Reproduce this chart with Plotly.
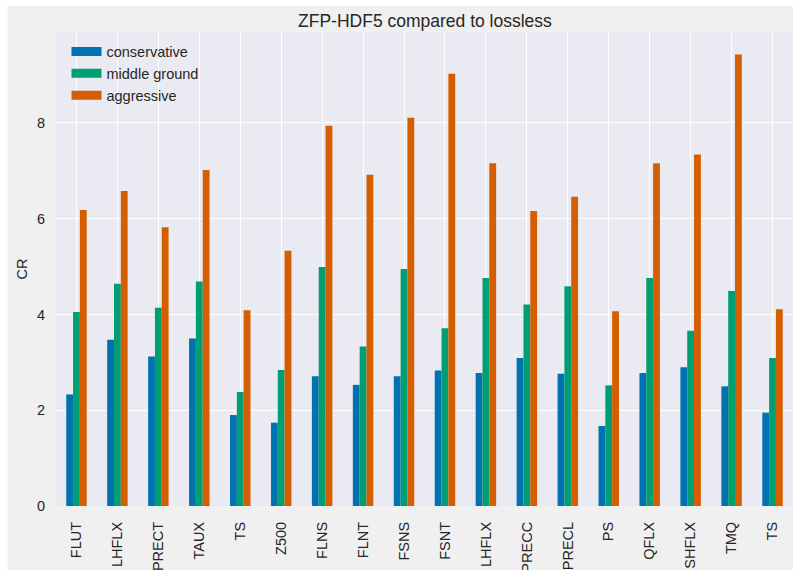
import plotly.graph_objects as go

categories = ["FLUT", "LHFLX", "PRECT", "TAUX", "TS", "Z500", "FLNS", "FLNT", "FSNS",
              "FSNT", "LHFLX", "PRECC", "PRECL", "PS", "QFLX", "SHFLX", "TMQ", "TS"]
conservative = [2.33, 3.47, 3.12, 3.50, 1.90, 1.74, 2.71, 2.53, 2.71,
                2.83, 2.78, 3.09, 2.76, 1.67, 2.78, 2.90, 2.50, 1.95]
middle_ground = [4.05, 4.64, 4.14, 4.69, 2.38, 2.84, 4.99, 3.33, 4.95,
                 3.71, 4.76, 4.21, 4.59, 2.52, 4.76, 3.66, 4.49, 3.09]
aggressive = [6.18, 6.58, 5.82, 7.02, 4.09, 5.33, 7.94, 6.92, 8.11,
              9.03, 7.16, 6.16, 6.46, 4.07, 7.16, 7.34, 9.43, 4.11]
series_names = ["conservative", "middle ground", "aggressive"]
colors = ["#0072B2", "#009E73", "#D55E00"]
y_ticks = [0, 2, 4, 6, 8]

W, H = 793, 570
ML, MR, MT, MB = 55.5, 0, 32, 64.3
pw = W - ML - MR
ph = H - MT - MB

def px_x(p):
    return (p - ML) / pw

def px_y(p):
    return (H - MB - p) / ph

FONT = "Liberation Sans, Arial, sans-serif"
TXT = "#262626"

xs = list(range(len(categories)))
fig = go.Figure()
for name, vals, col in zip(series_names, [conservative, middle_ground, aggressive], colors):
    fig.add_trace(go.Bar(x=xs, y=vals, name=name, legendgroup=name, showlegend=False,
                         marker=dict(color=col, line=dict(width=0))))
# legend entries drawn as wide swatches (like matplotlib patches)
for name, col in zip(series_names, colors):
    fig.add_trace(go.Scatter(x=[None], y=[None], mode="lines", name=name, legendgroup=name,
                             line=dict(color=col, width=9)))

fig.update_layout(
    width=W, height=H,
    margin=dict(l=ML, r=MR, t=MT, b=MB, pad=0, autoexpand=False),
    paper_bgcolor="white",
    plot_bgcolor="#EAEAF2",
    barmode="group", bargap=0.5, bargroupgap=0,
    font=dict(family=FONT, size=14.5, color=TXT),
    title=dict(text="ZFP-HDF5 compared to lossless", x=px_x(424.7), xref="paper", xanchor="center",
               y=1 - 21 / H, yanchor="middle", font=dict(size=17.5, color=TXT)),
    showlegend=True,
    legend=dict(x=px_x(66), y=px_y(35.5), xanchor="left", yanchor="top",
                bgcolor="rgba(0,0,0,0)", borderwidth=0,
                font=dict(size=14.5, color=TXT), tracegroupgap=0, itemwidth=30),
    xaxis=dict(range=[-0.5, len(categories) - 0.5], tickmode="array", tickvals=xs, ticktext=categories,
               tickangle=-90, showgrid=True, gridcolor="white", gridwidth=1.3, zeroline=False,
               showline=False, ticks="", ticklabelstandoff=12, automargin=False,
               tickfont=dict(size=14.5, color=TXT)),
    yaxis=dict(range=[0, 9.9], tickmode="array", tickvals=y_ticks, showgrid=True, gridcolor="white",
               gridwidth=1.3, zeroline=False, showline=False, ticks="", ticklabelstandoff=10,
               automargin=False, tickfont=dict(size=14.5, color=TXT),
               title=dict(text="CR", standoff=5, font=dict(size=14.5, color=TXT))),
    shapes=[
        dict(type="rect", xref="paper", yref="paper", x0=px_x(7), x1=px_x(W + 5),
             y0=px_y(H + 5), y1=px_y(6), fillcolor="#F0F0F0", line=dict(width=0), layer="below"),
        dict(type="rect", xref="paper", yref="paper", x0=0, x1=1, y0=0, y1=1,
             fillcolor="#EAEAF2", line=dict(width=0), layer="below"),
    ],
)

fig.write_html("out.html")
